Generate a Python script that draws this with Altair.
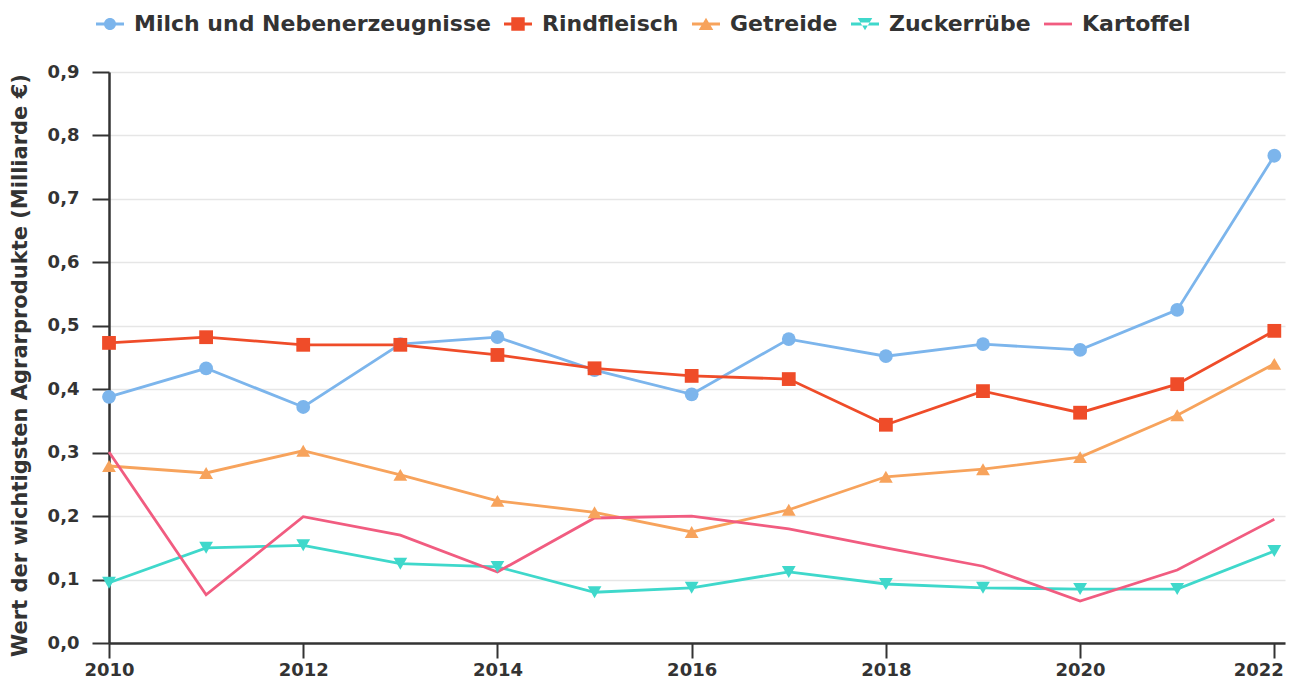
import altair as alt
import pandas as pd

years = list(range(2010, 2023))
series_names = ["Milch und Nebenerzeugnisse", "Rindfleisch", "Getreide", "Zuckerrübe", "Kartoffel"]
milch = [0.388, 0.433, 0.372, 0.471, 0.482, 0.430, 0.392, 0.479, 0.452, 0.471, 0.462, 0.525, 0.768]
rind = [0.473, 0.482, 0.470, 0.470, 0.454, 0.433, 0.421, 0.416, 0.344, 0.397, 0.363, 0.408, 0.492]
getreide = [0.279, 0.268, 0.303, 0.265, 0.224, 0.206, 0.175, 0.210, 0.262, 0.274, 0.293, 0.359, 0.440]
zucker = [0.095, 0.150, 0.154, 0.125, 0.120, 0.080, 0.087, 0.112, 0.093, 0.087, 0.085, 0.085, 0.145]
kartoffel = [0.301, 0.076, 0.199, 0.170, 0.112, 0.197, 0.200, 0.180, 0.150, 0.121, 0.066, 0.115, 0.195]

colors = ["#7cb5ec", "#ef4c29", "#f7a35c", "#3fd8cb", "#f15c80"]
point_shapes = ["circle", "square", "triangle-up", "triangle-down", "circle"]
bar = "M-1,-0.1H1V0.1H-1Z"
legend_shapes = [
    bar + " M0.43,0A0.43,0.43 0 1,1 -0.43,0A0.43,0.43 0 1,1 0.43,0Z",
    bar + " M-0.48,-0.48H0.48V0.48H-0.48Z",
    bar + " M0,-0.45L0.52,0.42L-0.52,0.42Z",
    bar + " M0,0.45L0.52,-0.42L-0.52,-0.42Z",
    bar,
]

rows = []
for name, vals in zip(series_names, [milch, rind, getreide, zucker, kartoffel]):
    for y, v in zip(years, vals):
        rows.append({"Jahr": y, "Wert": v, "Serie": name})
df = pd.DataFrame(rows)

FONT = "DejaVu Sans"
TXT = "#333333"

x = alt.X("Jahr:Q",
          scale=alt.Scale(domain=[2010, 2022.11], nice=False, zero=False),
          axis=alt.Axis(values=[2010, 2012, 2014, 2016, 2018, 2020, 2022], format="d",
                        title=None, grid=False, labelFontSize=18, labelFontWeight="bold",
                        labelColor=TXT, tickSize=15, tickWidth=2, tickColor=TXT,
                        domainColor=TXT, domainWidth=2.5, labelPadding=3, labelFlush=False,
                        labelOffset={"condition": {"test": "datum.value == 2022", "value": -16}, "value": 0}))
y = alt.Y("Wert:Q",
          scale=alt.Scale(domain=[0, 0.9], nice=False),
          axis=alt.Axis(values=[0, 0.1, 0.2, 0.3, 0.4, 0.5, 0.6, 0.7, 0.8, 0.9],
                        labelExpr="replace(format(datum.value, '.1f'), '.', ',')",
                        title="Wert der wichtigsten Agrarprodukte (Milliarde €)",
                        titleFontSize=21, titleFontWeight="bold", titleColor=TXT,
                        titleX=-89, titleY=293, titleAlign="center", titleBaseline="middle",
                        labelFontSize=18, labelFontWeight="bold", labelColor=TXT,
                        tickSize=17, tickWidth=2, tickColor=TXT, labelPadding=13,
                        domainColor=TXT, domainWidth=2.5,
                        gridColor="#e6e6e6", gridWidth=1.5))

def cscale():
    return alt.Scale(domain=series_names, range=colors)

leg = dict(title=None, orient="none", legendX=-13, legendY=-62,
           direction="horizontal", labelFontSize=22, labelFontWeight="bold",
           labelColor=TXT, symbolSize=784, symbolStrokeWidth=0, symbolOpacity=1,
           columnPadding=13, labelOffset=10, labelLimit=600)

lines = alt.Chart(df).mark_line(strokeWidth=2.8).encode(
    x=x, y=y, color=alt.Color("Serie:N", scale=cscale(), legend=None),
    detail="Serie:N")

points = alt.Chart(df).transform_filter("datum.Serie != 'Kartoffel'").mark_point(
    filled=True, size=190, opacity=1).encode(
    x=x, y=y,
    color=alt.Color("Serie:N", scale=cscale(), legend=None),
    shape=alt.Shape("Serie:N", scale=alt.Scale(domain=series_names, range=point_shapes), legend=None))

legend_layer = alt.Chart(df).transform_filter("false").mark_point(
    filled=True, size=784, opacity=1).encode(
    x=x, y=y,
    color=alt.Color("Serie:N", scale=cscale(), legend=alt.Legend(**leg)),
    shape=alt.Shape("Serie:N", scale=alt.Scale(domain=series_names, range=legend_shapes),
                    legend=alt.Legend(**leg)))

chart = alt.layer(lines, points, legend_layer).resolve_scale(
    color="independent", shape="independent"
).properties(
    width=1176, height=571,
    autosize=alt.AutoSizeParams(type="none"),
    padding={"left": 101, "top": 64, "right": 5, "bottom": 35},
).configure(font=FONT).configure_view(stroke=None)

chart.save("out.html", embed_options={"renderer": "svg", "actions": False})
